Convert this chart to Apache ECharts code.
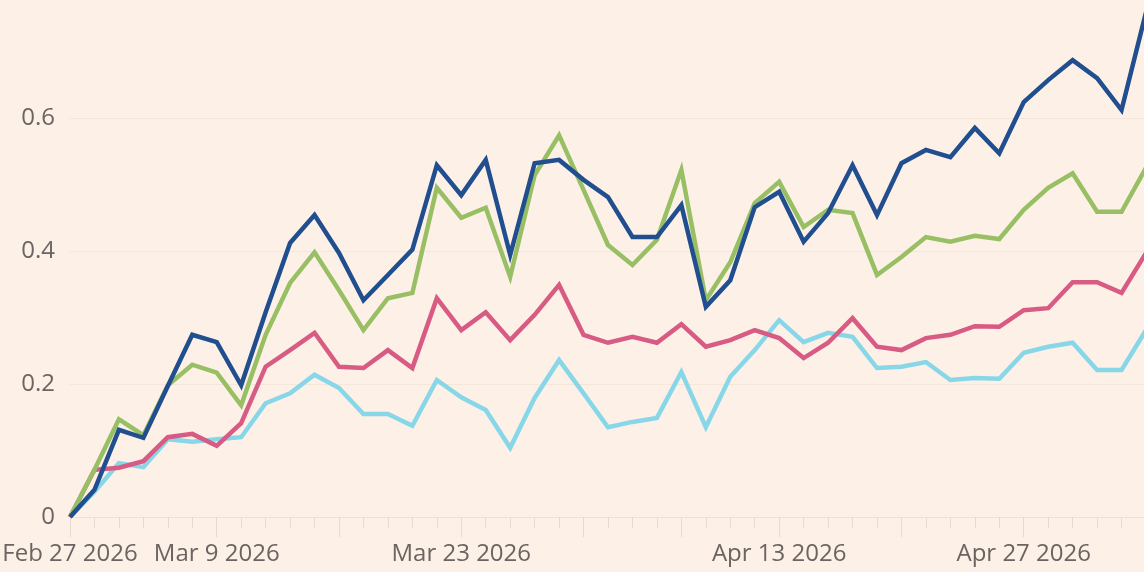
<!DOCTYPE html>
<html>
<head>
<meta charset="utf-8">
<script src="https://cdn.jsdelivr.net/npm/echarts@6/dist/echarts.min.js"></script>
<style>
    html, body { margin: 0; padding: 0; background: #FDF1E7; }
    #chart { width: 1144px; height: 572px; }
</style>
</head>
<body>
<div id="chart"></div>
<script>
// trading days (UK holidays Apr 3, Apr 6, May 4 skipped)
var dates = [
    'Feb 27 2026',
    'Mar 2 2026', 'Mar 3 2026', 'Mar 4 2026', 'Mar 5 2026', 'Mar 6 2026',
    'Mar 9 2026', 'Mar 10 2026', 'Mar 11 2026', 'Mar 12 2026', 'Mar 13 2026',
    'Mar 16 2026', 'Mar 17 2026', 'Mar 18 2026', 'Mar 19 2026', 'Mar 20 2026',
    'Mar 23 2026', 'Mar 24 2026', 'Mar 25 2026', 'Mar 26 2026', 'Mar 27 2026',
    'Mar 30 2026', 'Mar 31 2026', 'Apr 1 2026', 'Apr 2 2026',
    'Apr 7 2026', 'Apr 8 2026', 'Apr 9 2026', 'Apr 10 2026',
    'Apr 13 2026', 'Apr 14 2026', 'Apr 15 2026', 'Apr 16 2026', 'Apr 17 2026',
    'Apr 20 2026', 'Apr 21 2026', 'Apr 22 2026', 'Apr 23 2026', 'Apr 24 2026',
    'Apr 27 2026', 'Apr 28 2026', 'Apr 29 2026', 'Apr 30 2026', 'May 1 2026',
    'May 5 2026'
];

// dates that get a label
var labelDates = ['Feb 27 2026', 'Mar 9 2026', 'Mar 23 2026', 'Apr 13 2026', 'Apr 27 2026'];

// first trading day of each week -> longer tick
var weekStarts = ['Feb 27 2026', 'Mar 9 2026', 'Mar 16 2026', 'Mar 23 2026', 'Mar 30 2026',
    'Apr 7 2026', 'Apr 13 2026', 'Apr 20 2026', 'Apr 27 2026', 'May 5 2026'];

var yTicks = [0, 0.2, 0.4, 0.6, 0.8];

var darkBlue = [0, 0.041, 0.131, 0.119, 0.197, 0.274, 0.263, 0.198, 0.308, 0.412,
    0.454, 0.397, 0.326, 0.364, 0.402, 0.529, 0.484, 0.537, 0.394, 0.532,
    0.537, 0.507, 0.481, 0.421, 0.421, 0.469, 0.316, 0.356, 0.466, 0.489,
    0.414, 0.457, 0.529, 0.454, 0.532, 0.552, 0.541, 0.585, 0.547, 0.624,
    0.657, 0.687, 0.660, 0.612, 0.759];

var green = [0, 0.071, 0.147, 0.123, 0.198, 0.229, 0.217, 0.168, 0.274, 0.352,
    0.398, 0.341, 0.281, 0.329, 0.337, 0.495, 0.450, 0.465, 0.361, 0.514,
    0.574, 0.492, 0.409, 0.379, 0.417, 0.522, 0.326, 0.383, 0.472, 0.504,
    0.436, 0.462, 0.457, 0.364, 0.391, 0.421, 0.414, 0.423, 0.418, 0.462,
    0.495, 0.517, 0.459, 0.459, 0.525];

var pink = [0, 0.071, 0.074, 0.084, 0.120, 0.125, 0.107, 0.141, 0.226, 0.251,
    0.277, 0.226, 0.224, 0.251, 0.224, 0.329, 0.281, 0.308, 0.266, 0.304,
    0.349, 0.274, 0.262, 0.271, 0.262, 0.290, 0.256, 0.266, 0.281, 0.269,
    0.239, 0.262, 0.299, 0.256, 0.251, 0.269, 0.274, 0.287, 0.286, 0.311,
    0.314, 0.353, 0.353, 0.337, 0.397];

var lightBlue = [0, 0.038, 0.081, 0.075, 0.117, 0.113, 0.117, 0.120, 0.171, 0.186,
    0.214, 0.194, 0.155, 0.155, 0.137, 0.206, 0.180, 0.161, 0.104, 0.179,
    0.236, 0.186, 0.135, 0.143, 0.149, 0.218, 0.135, 0.211, 0.251, 0.296,
    0.263, 0.277, 0.271, 0.224, 0.226, 0.233, 0.206, 0.209, 0.208, 0.247,
    0.256, 0.262, 0.221, 0.221, 0.281];

var textColor = '#6B6462';
var fontName = 'Open Sans';

var dom = document.getElementById('chart');
var myChart = echarts.init(dom);

function lineSeries(name, data, color) {
    return {
        name: name,
        type: 'line',
        data: data,
        showSymbol: false,
        symbol: 'none',
        lineStyle: { width: 4.5, color: color, join: 'miter' },
        itemStyle: { color: color },
        animation: false
    };
}

var option = {
    backgroundColor: '#FDF1E7',
    grid: {
        left: 70,
        right: -2,
        top: -15,
        bottom: 55,
        containLabel: false,
        outerBoundsMode: 'none'
    },
    xAxis: [
        {
            type: 'category',
            position: 'bottom',
            boundaryGap: false,
            data: dates,
            axisLine: { show: true, lineStyle: { color: '#EDE0D4', width: 1 } },
            axisTick: {
                show: true,
                interval: 0,
                length: 11,
                lineStyle: { color: '#E8DACE', width: 1 }
            },
            axisLabel: {
                show: true,
                interval: function(index, value) {
                    return labelDates.indexOf(value) > -1;
                },
                color: textColor,
                fontFamily: fontName,
                fontSize: 24,
                margin: 25
            },
            splitLine: { show: false }
        },
        {
            type: 'category',
            position: 'bottom',
            boundaryGap: false,
            data: dates,
            axisLine: { show: false },
            axisTick: {
                show: true,
                interval: function(index, value) {
                    return weekStarts.indexOf(value) > -1;
                },
                length: 20,
                lineStyle: { color: '#E8DACE', width: 1 }
            },
            axisLabel: { show: false },
            splitLine: { show: false }
        }
    ],
    yAxis: {
        type: 'value',
        min: yTicks[0],
        max: yTicks[yTicks.length - 1],
        interval: 0.2,
        axisLine: { show: false },
        axisTick: { show: false },
        axisLabel: {
            color: textColor,
            fontFamily: fontName,
            fontSize: 24,
            margin: 15,
            showMaxLabel: false
        },
        splitLine: { show: true, lineStyle: { color: '#F5E6DA', width: 1 } }
    },
    series: [
        lineSeries('Light blue', lightBlue, '#87D7E9'),
        lineSeries('Pink', pink, '#D75B82'),
        lineSeries('Green', green, '#99BF65'),
        lineSeries('Dark blue', darkBlue, '#214E8F')
    ]
};

if (option && typeof option === 'object') {
    myChart.setOption(option);
}
</script>
</body>
</html>
